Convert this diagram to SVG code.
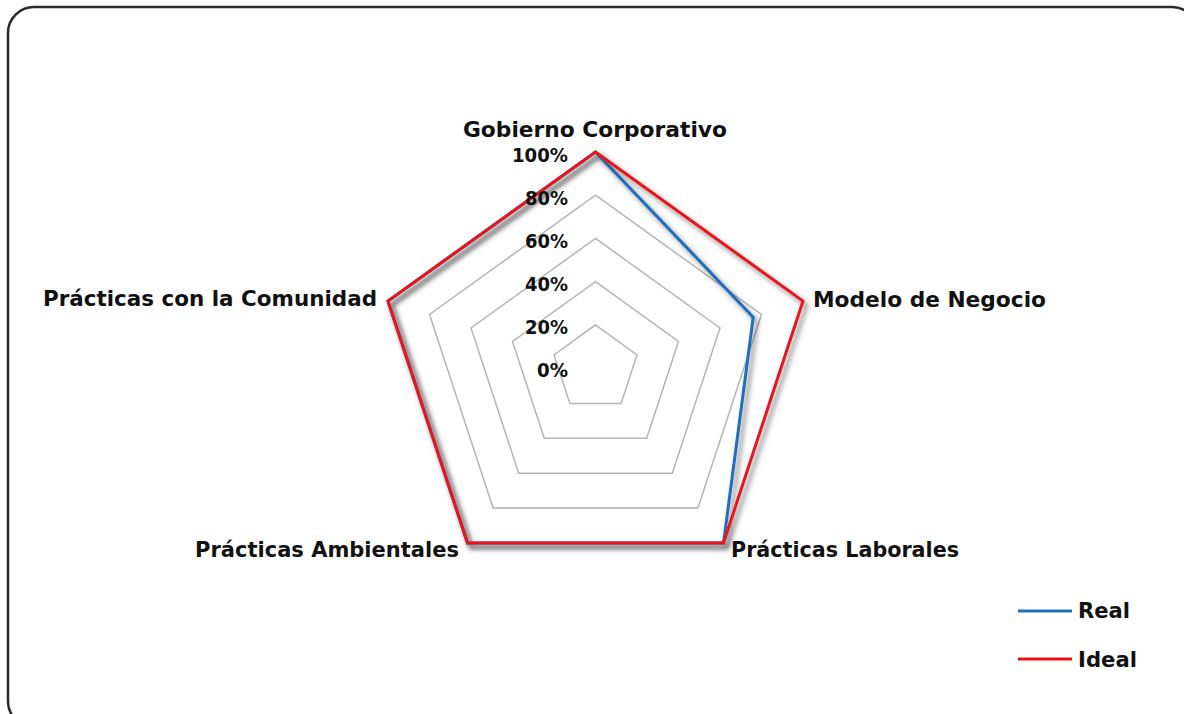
<svg xmlns="http://www.w3.org/2000/svg" width="1184" height="714" viewBox="0 0 1184 714">
<defs>
<filter id="sh" x="-10%" y="-10%" width="120%" height="120%">
<feDropShadow dx="3.5" dy="4" stdDeviation="2.5" flood-color="#444" flood-opacity="0.7"/>
</filter>
<style>
.grid{fill:none;stroke:#b4b4b4;stroke-width:1.5}
.lbl{font-family:"DejaVu Sans","Liberation Sans",sans-serif;font-weight:bold;font-size:22px;fill:#111}
.pct{font-family:"DejaVu Sans","Liberation Sans",sans-serif;font-weight:bold;font-size:20px;fill:#111;text-anchor:end}
.real{fill:none;stroke:#1f6fbf;stroke-width:3;stroke-linejoin:miter}
.ideal{fill:none;stroke:#e8141c;stroke-width:3;stroke-linejoin:miter}
</style>
</defs>
<rect x="8" y="7" width="1190" height="720" rx="26" ry="26" fill="#fff" stroke="#2a2a2a" stroke-width="2.5"/>
<g id="grid">
<polygon class="grid" points="595.5,324.8 637,355 621.1,403.4 569.9,403.4 554,355"/>
<polygon class="grid" points="595.5,281.6 678.5,341.5 646.7,438.3 544.3,438.3 512.5,341.5"/>
<polygon class="grid" points="595.5,238.4 720,328 672.3,473.2 518.7,473.2 471,328"/>
<polygon class="grid" points="595.5,195.2 761.5,314.5 697.9,508.1 493.1,508.1 429.5,314.5"/>
<polygon class="grid" points="595.5,152 803,301 723.5,543 467.5,543 388,301"/>
</g>
<g id="series">
<polygon id="real" class="real" filter="url(#sh)" points="595.5,152 753.2,317.2 723.5,543 467.5,543 388,301"/>
<polygon id="ideal" class="ideal" filter="url(#sh)" points="595.5,152 803,301 723.5,543 467.5,543 388,301"/>
</g>
<g id="axis-labels">
<text class="pct" x="568" y="162" textLength="56" lengthAdjust="spacingAndGlyphs">100%</text>
<text class="pct" x="568" y="205" textLength="43" lengthAdjust="spacingAndGlyphs">80%</text>
<text class="pct" x="568" y="248" textLength="43" lengthAdjust="spacingAndGlyphs">60%</text>
<text class="pct" x="568" y="291" textLength="43" lengthAdjust="spacingAndGlyphs">40%</text>
<text class="pct" x="568" y="334" textLength="43" lengthAdjust="spacingAndGlyphs">20%</text>
<text class="pct" x="568" y="377" textLength="31" lengthAdjust="spacingAndGlyphs">0%</text>
</g>
<g id="node-gobierno"><text class="lbl" x="463" y="137" textLength="264" lengthAdjust="spacingAndGlyphs">Gobierno Corporativo</text></g>
<g id="node-modelo"><text class="lbl" x="813" y="307" textLength="233" lengthAdjust="spacingAndGlyphs">Modelo de Negocio</text></g>
<g id="node-laborales"><text class="lbl" x="731" y="557" textLength="228" lengthAdjust="spacingAndGlyphs">Prácticas Laborales</text></g>
<g id="node-ambientales"><text class="lbl" x="195" y="557" textLength="264" lengthAdjust="spacingAndGlyphs">Prácticas Ambientales</text></g>
<g id="node-comunidad"><text class="lbl" x="43" y="306" textLength="334" lengthAdjust="spacingAndGlyphs">Prácticas con la Comunidad</text></g>
<g id="legend">
<line x1="1018" y1="611" x2="1072" y2="611" stroke="#1f6fbf" stroke-width="3"/>
<text class="lbl" x="1078" y="618" textLength="52" lengthAdjust="spacingAndGlyphs">Real</text>
<line x1="1018" y1="659" x2="1072" y2="659" stroke="#e8141c" stroke-width="3"/>
<text class="lbl" x="1078" y="667" textLength="59" lengthAdjust="spacingAndGlyphs">Ideal</text>
</g>
</svg>
